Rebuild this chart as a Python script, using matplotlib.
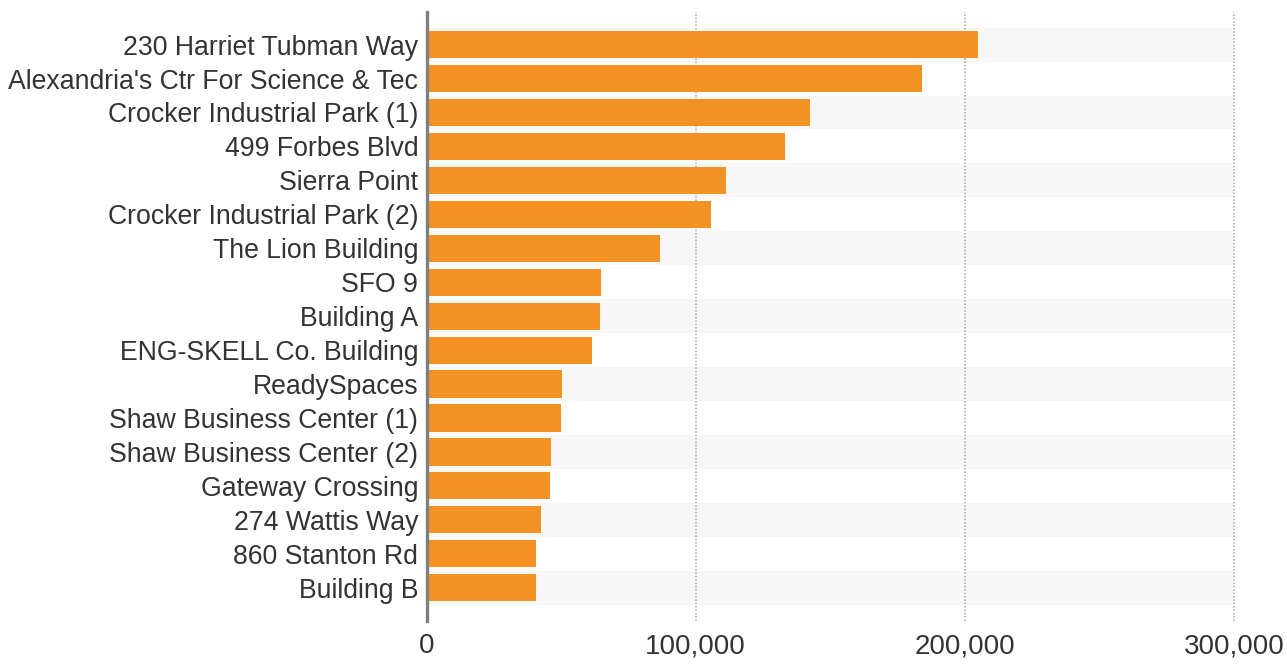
import matplotlib.pyplot as plt
from matplotlib.ticker import FuncFormatter

names = [
    "230 Harriet Tubman Way",
    "Alexandria's Ctr For Science & Tec",
    "Crocker Industrial Park (1)",
    "499 Forbes Blvd",
    "Sierra Point",
    "Crocker Industrial Park (2)",
    "The Lion Building",
    "SFO 9",
    "Building A",
    "ENG-SKELL Co. Building",
    "ReadySpaces",
    "Shaw Business Center (1)",
    "Shaw Business Center (2)",
    "Gateway Crossing",
    "274 Wattis Way",
    "860 Stanton Rd",
    "Building B",
]
values = [205000, 184200, 142600, 133300, 111400, 105800, 86900, 65000,
          64600, 61300, 50500, 50100, 46400, 46000, 42700, 40800, 40800]
xticks = [0, 100000, 200000, 300000]

plt.rcParams['font.family'] = ['Liberation Sans', 'DejaVu Sans']

fig = plt.figure(figsize=(12.87, 6.64), dpi=100)
ax = fig.add_axes([0.3314, 0.0648, 0.6274, 0.9171])

pos = list(range(len(names)))

# alternating row shading
for i in pos:
    if i % 2 == 0:
        ax.barh(i, xticks[-1], height=1.0, color='#f7f7f7', zorder=1)

for x in xticks[1:]:
    ax.axvline(x, color='#a8a8a8', lw=1.1, ls=(0, (1, 1.2)), zorder=2,
               clip_on=False)

ax.barh(pos, values, height=0.8, color='#f39122', zorder=3)

ax.set_xlim(0, xticks[-1])
ax.set_ylim(len(names) - 0.02, -0.96)
ax.set_yticks(pos)
ax.set_yticklabels(names, fontsize=19.2, color='#333333')
ax.set_xticks(xticks)
ax.xaxis.set_major_formatter(FuncFormatter(lambda v, p: f"{int(v):,}"))
ax.tick_params(axis='x', length=0, labelsize=20, labelcolor='#333333', pad=9)
ax.tick_params(axis='y', length=0, pad=6)

for s in ['top', 'right', 'bottom']:
    ax.spines[s].set_visible(False)
ax.spines['left'].set_color('#7f7f7f')
ax.spines['left'].set_linewidth(2.4)
ax.spines['left'].set_zorder(4)

fig.savefig('out.png', dpi=100)
